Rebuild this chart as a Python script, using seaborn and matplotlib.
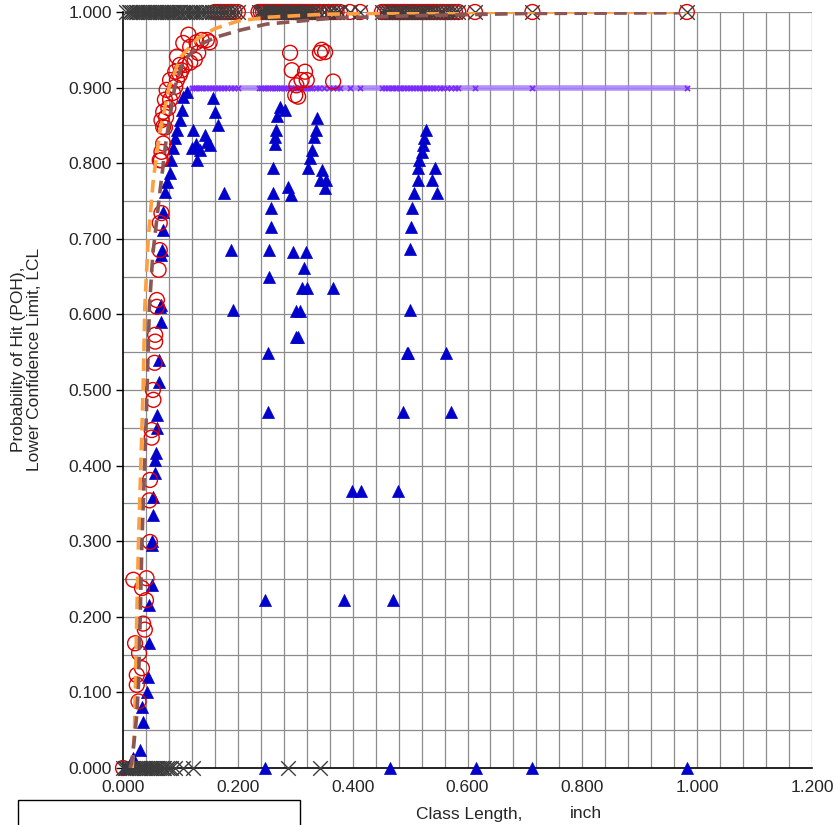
import matplotlib
matplotlib.use("Agg")
import matplotlib.pyplot as plt
import seaborn as sns
import pandas as pd
import numpy as np
from matplotlib.patches import Rectangle

# ---------------- data ----------------
# Hits (POH = 1) class lengths, inch
hit_x = [0.006, 0.010, 0.013, 0.016, 0.019, 0.022, 0.025, 0.028, 0.031, 0.034, 0.037, 0.040,
         0.043, 0.046, 0.049, 0.052, 0.055, 0.058, 0.061, 0.064, 0.067, 0.070, 0.073, 0.076,
         0.079, 0.082, 0.085, 0.088, 0.091, 0.094, 0.097, 0.100, 0.104, 0.108, 0.112, 0.116,
         0.120, 0.124, 0.128, 0.132, 0.136, 0.140, 0.145, 0.150, 0.155, 0.160, 0.165, 0.170,
         0.176, 0.182, 0.188, 0.194, 0.200,
         0.236, 0.240, 0.244, 0.248, 0.252, 0.256, 0.260, 0.264, 0.268, 0.272, 0.276, 0.280,
         0.284, 0.288, 0.292, 0.296, 0.300, 0.304, 0.308, 0.312, 0.316, 0.320, 0.325, 0.330,
         0.336, 0.342, 0.350, 0.358, 0.366, 0.372, 0.378, 0.395, 0.413,
         0.451, 0.456, 0.461, 0.466, 0.470, 0.475, 0.480, 0.485, 0.490, 0.495, 0.500, 0.505,
         0.510, 0.515, 0.520, 0.525, 0.530, 0.535, 0.540, 0.546, 0.552, 0.558, 0.565, 0.572,
         0.578, 0.584, 0.613, 0.713, 0.982]
# Misses (POH = 0) class lengths, inch
miss_x = [0.000, 0.003, 0.006, 0.009, 0.012, 0.015, 0.018, 0.021, 0.024, 0.027, 0.030, 0.033,
          0.036, 0.039, 0.042, 0.045, 0.048, 0.051, 0.054, 0.057, 0.060, 0.063, 0.066, 0.069,
          0.072, 0.076, 0.080, 0.084, 0.090, 0.105, 0.122, 0.287, 0.343]

# POH estimates (red circles)
poh_x = [0.000, 0.018, 0.041, 0.033, 0.040, 0.035, 0.038, 0.021, 0.028, 0.033, 0.024, 0.024,
         0.027, 0.047, 0.046, 0.047, 0.050, 0.050, 0.053, 0.052, 0.055, 0.056, 0.056, 0.059,
         0.059, 0.062, 0.064, 0.064, 0.067, 0.064, 0.066, 0.067, 0.070, 0.073, 0.067, 0.070,
         0.075, 0.070, 0.079, 0.082, 0.073, 0.087, 0.076, 0.091, 0.094, 0.082, 0.099, 0.091,
         0.102, 0.108, 0.099, 0.117, 0.125, 0.094, 0.131, 0.117, 0.105, 0.128, 0.151, 0.137,
         0.146, 0.114,
         0.291, 0.346, 0.352, 0.343, 0.294, 0.317, 0.311, 0.366, 0.302, 0.320, 0.300, 0.305]
poh_y = [0.000, 0.249, 0.251, 0.238, 0.222, 0.191, 0.183, 0.165, 0.152, 0.132, 0.123, 0.110,
         0.088, 0.299, 0.354, 0.381, 0.437, 0.447, 0.487, 0.500, 0.536, 0.564, 0.573, 0.610,
         0.619, 0.659, 0.685, 0.721, 0.734, 0.804, 0.804, 0.815, 0.826, 0.847, 0.857, 0.848,
         0.861, 0.868, 0.873, 0.884, 0.884, 0.893, 0.897, 0.901, 0.910, 0.910, 0.917, 0.921,
         0.923, 0.930, 0.930, 0.933, 0.937, 0.941, 0.946, 0.954, 0.959, 0.960, 0.960, 0.963,
         0.963, 0.970,
         0.946, 0.950, 0.947, 0.946, 0.923, 0.921, 0.910, 0.908, 0.903, 0.910, 0.890, 0.888]

# Lower confidence limit (blue triangles)
lcl_x = [0.003, 0.018, 0.030, 0.033, 0.035, 0.041, 0.043, 0.046, 0.046, 0.050, 0.050, 0.050,
         0.052, 0.053, 0.055, 0.056, 0.058, 0.059, 0.060, 0.062, 0.063, 0.066, 0.064, 0.066,
         0.067, 0.068, 0.069, 0.070, 0.074, 0.077, 0.081, 0.084, 0.087, 0.091, 0.094, 0.099,
         0.102, 0.105, 0.111,
         0.156, 0.160, 0.166, 0.122, 0.142, 0.146, 0.151, 0.127, 0.121, 0.134, 0.129, 0.176,
         0.188, 0.191,
         0.273, 0.282, 0.268, 0.266, 0.265, 0.264, 0.262, 0.261, 0.258, 0.257, 0.255, 0.254,
         0.253, 0.252, 0.247, 0.247,
         0.338, 0.336, 0.333, 0.329, 0.326, 0.322, 0.346, 0.343, 0.354, 0.351,
         0.288, 0.292, 0.296, 0.318, 0.315, 0.311, 0.320, 0.366, 0.302, 0.309, 0.302, 0.305,
         0.398, 0.414, 0.385,
         0.528, 0.525, 0.523, 0.520, 0.516, 0.513, 0.513, 0.507, 0.504, 0.502, 0.499, 0.499,
         0.543, 0.539, 0.547, 0.494, 0.497, 0.5625, 0.487, 0.571, 0.479, 0.471, 0.465,
         0.614, 0.713, 0.982]
lcl_y = [0.000, 0.013, 0.024, 0.081, 0.061, 0.100, 0.120, 0.165, 0.216, 0.242, 0.295, 0.300,
         0.335, 0.358, 0.390, 0.407, 0.417, 0.450, 0.467, 0.510, 0.540, 0.590, 0.610, 0.612,
         0.679, 0.685, 0.712, 0.735, 0.762, 0.775, 0.787, 0.804, 0.820, 0.833, 0.844, 0.857,
         0.870, 0.888, 0.894,
         0.886, 0.868, 0.850, 0.844, 0.837, 0.828, 0.824, 0.826, 0.820, 0.817, 0.804, 0.760,
         0.685, 0.606,
         0.875, 0.870, 0.862, 0.844, 0.835, 0.826, 0.794, 0.760, 0.741, 0.716, 0.685, 0.650,
         0.549, 0.471, 0.222, 0.000,
         0.860, 0.844, 0.835, 0.817, 0.807, 0.794, 0.791, 0.778, 0.778, 0.767,
         0.769, 0.758, 0.683, 0.683, 0.661, 0.635, 0.635, 0.635, 0.605, 0.605, 0.570, 0.570,
         0.367, 0.367, 0.222,
         0.844, 0.833, 0.824, 0.815, 0.804, 0.794, 0.778, 0.760, 0.741, 0.716, 0.686, 0.606,
         0.794, 0.778, 0.760, 0.549, 0.549, 0.549, 0.471, 0.471, 0.367, 0.222, 0.000,
         0.000, 0.000, 0.000]

# Fitted POH curve (orange) and LCL curve (brown)
fit_x = [0.016, 0.020, 0.022, 0.024, 0.027, 0.031, 0.035, 0.038, 0.044, 0.053, 0.064, 0.080,
         0.100, 0.130, 0.160, 0.200, 0.250, 0.350, 0.500, 0.700, 0.982]
fit_y = [0.000, 0.050, 0.120, 0.200, 0.300, 0.400, 0.500, 0.610, 0.700, 0.780, 0.840, 0.900,
         0.940, 0.965, 0.978, 0.988, 0.993, 0.997, 0.999, 1.000, 1.000]
lclfit_x = [0.012, 0.015, 0.020, 0.024, 0.027, 0.030, 0.033, 0.040, 0.046, 0.052, 0.064, 0.075,
            0.090, 0.105, 0.134, 0.163, 0.204, 0.250, 0.308, 0.366, 0.500, 0.700, 0.970]
lclfit_y = [0.000, 0.006, 0.040, 0.070, 0.110, 0.200, 0.300, 0.450, 0.610, 0.680, 0.760, 0.830,
            0.900, 0.935, 0.957, 0.967, 0.976, 0.984, 0.988, 0.992, 0.995, 0.998, 0.999]

poh90_level = 0.9
poh90_start = 0.117

x_ticks = [0.0, 0.2, 0.4, 0.6, 0.8, 1.0, 1.2]
y_ticks = [0.0, 0.1, 0.2, 0.3, 0.4, 0.5, 0.6, 0.7, 0.8, 0.9, 1.0]

FS = 12.5

# ---------------- plot ----------------
sns.set_theme(style="white")
plt.rcParams['font.family'] = ['Liberation Sans', 'DejaVu Sans']

fig = plt.figure(figsize=(8.34, 8.25), dpi=100)
ax = fig.add_axes([123/834, 1-768/825, (812-123)/834, (768-12)/825])

ax.set_xlim(0, 1.2)
ax.set_ylim(0, 1.0)

# grid
for gx in np.arange(0.04, 1.2001, 0.04):
    ax.axvline(gx, color='#8c8c8c', lw=0.9, zorder=0)
for gy in np.arange(0.05, 1.0001, 0.05):
    ax.axhline(gy, color='#8c8c8c', lw=0.9, zorder=0)

# 90% POH line with markers
p90_x = [v for v in hit_x if v >= poh90_start]
df90 = pd.DataFrame({'x': p90_x, 'y': [poh90_level] * len(p90_x)})
sns.lineplot(data=df90, x='x', y='y', ax=ax, color='#a77dff', lw=4, alpha=0.85,
             estimator=None, sort=False, zorder=2)
sns.scatterplot(data=df90, x='x', y='y', ax=ax, marker='x', color='#7a2cff', s=14,
                linewidth=1.2, zorder=3)

# LCL triangles
df_lcl = pd.DataFrame({'x': lcl_x, 'y': lcl_y})
sns.scatterplot(data=df_lcl, x='x', y='y', ax=ax, marker='^', color='#0000cc',
                edgecolor='#0000cc', s=75, linewidth=0.5, zorder=4)

# POH red circles (estimates + hits shown above 0.157)
circ_hits = [v for v in hit_x if v >= 0.157]
df_poh = pd.DataFrame({'x': poh_x + circ_hits, 'y': poh_y + [1.0] * len(circ_hits)})
sns.scatterplot(data=df_poh, x='x', y='y', ax=ax, marker='o', facecolor='none',
                edgecolor='#e00000', s=115, linewidth=1.0, zorder=5)

# hit/miss X markers
df_hm = pd.DataFrame({'x': hit_x + miss_x, 'y': [1.0] * len(hit_x) + [0.0] * len(miss_x)})
sns.scatterplot(data=df_hm, x='x', y='y', ax=ax, marker='x', color='#3c3c3c',
                s=110, linewidth=1.0, zorder=6)

# fitted curves
df_fit = pd.DataFrame({'x': fit_x, 'y': fit_y})
df_lfit = pd.DataFrame({'x': lclfit_x, 'y': lclfit_y})
sns.lineplot(data=df_fit, x='x', y='y', ax=ax, color='#ffa040', lw=2.6,
             estimator=None, sort=False, zorder=7, dashes=False)
ax.lines[-1].set_dashes([3.5, 2])
sns.lineplot(data=df_lfit, x='x', y='y', ax=ax, color='#8b5656', lw=2.6,
             estimator=None, sort=False, zorder=7, dashes=False)
ax.lines[-1].set_dashes([3.5, 2])

for c in ax.collections:
    c.set_clip_on(False)

# axes styling
ax.set_xticks(x_ticks)
ax.set_yticks(y_ticks)
ax.set_xticklabels([f"{v:.3f}" for v in x_ticks])
ax.set_yticklabels([f"{v:.3f}" for v in y_ticks])
ax.tick_params(axis='y', direction='out', length=5, width=1, color='black',
               labelsize=FS, pad=3, left=True)
ax.tick_params(axis='x', direction='out', length=0, labelsize=FS, pad=9, bottom=True)
for s in ['top', 'right']:
    ax.spines[s].set_visible(False)
for s in ['left', 'bottom']:
    ax.spines[s].set_color('black')
    ax.spines[s].set_linewidth(1.2)
    ax.spines[s].set_zorder(1)

ax.set_xlabel("")
ax.set_ylabel("Probability of Hit (POH),\nLower Confidence Limit, LCL", fontsize=FS,
              linespacing=1.05)
ax.yaxis.set_label_coords(-0.118, 0.54)

fig.text(469.5/834, 1-814/825, "Class Length,", ha='center', va='center', fontsize=FS)
fig.text(586/834, 1-814/825, "inch", ha='center', va='center', fontsize=FS)

# legend box remnant (bottom-left)
fig.add_artist(Rectangle((18/834, -0.02), (300-18)/834, 25/825 + 0.02,
                         transform=fig.transFigure, fill=False, edgecolor='black', lw=1))

fig.savefig("out.png", dpi=100)
